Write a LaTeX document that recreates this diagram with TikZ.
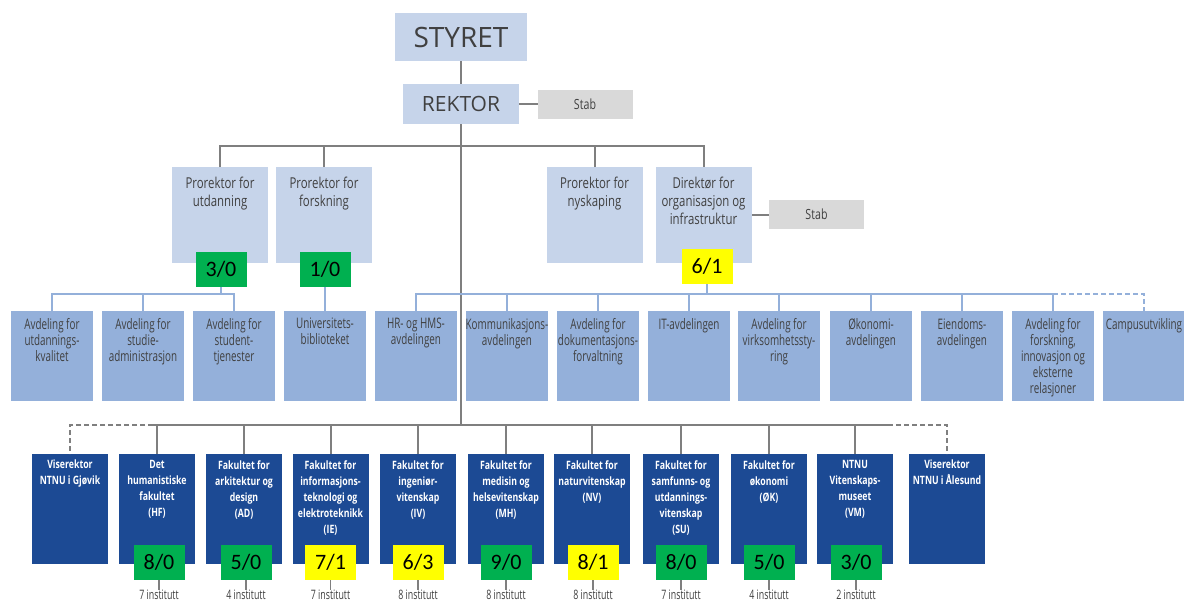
\documentclass[tikz,border=0pt]{standalone}
\usepackage{fontspec}
\setmainfont{Open Sans}
\newfontfamily\cond[FakeStretch=0.76]{Open Sans}
\newfontfamily\condn[FakeStretch=0.68]{Open Sans}
\newfontfamily\calib{Carlito}
\definecolor{topfill}{HTML}{C6D4EA}
\definecolor{deptfill}{HTML}{94B0DA}
\definecolor{facfill}{HTML}{1C4A94}
\definecolor{stabfill}{HTML}{D9D9D9}
\definecolor{conngray}{HTML}{7F7F7F}
\definecolor{connblue}{HTML}{94B0DA}
\definecolor{txtgray}{HTML}{404040}
\definecolor{scgreen}{HTML}{00B050}
\definecolor{scyellow}{HTML}{FFFF00}
\tikzset{
  box/.style={draw=none,inner sep=0pt,outer sep=0pt},
  topbox/.style={box,fill=topfill},
  stabbox/.style={box,fill=stabfill,minimum width=95pt,minimum height=29pt,text=txtgray,font=\cond\fontsize{14}{16}\selectfont},
  probox/.style={box,fill=topfill,minimum width=96pt,minimum height=96pt},
  protxt/.style={inner sep=0pt,anchor=north,align=center,text=txtgray,font=\cond\fontsize{15}{18}\selectfont},
  deptbox/.style={box,fill=deptfill,minimum width=82pt,minimum height=90pt},
  depttxt/.style={inner sep=0pt,anchor=north,align=center,text=txtgray,font=\condn\fontsize{14.5}{16}\selectfont},
  facbox/.style={box,fill=facfill,minimum width=76pt,minimum height=110pt},
  factxt/.style={inner sep=0pt,anchor=north,align=center,text=white,font=\cond\bfseries\fontsize{11.5}{16}\selectfont},
  score/.style={box,minimum width=51pt,minimum height=35pt,font=\calib\fontsize{22}{23}\selectfont},
  green/.style={fill=scgreen},
  yellow/.style={fill=scyellow},
  insttxt/.style={inner sep=0pt,text=txtgray,font=\condn\fontsize{13}{13}\selectfont},
  conn/.style={draw=conngray,line width=2pt},
  bconn/.style={draw=connblue,line width=2pt},
  tick/.style={draw=conngray,line width=1.2pt},
}
\begin{document}
\begin{tikzpicture}[x=1pt,y=-1pt]
\useasboundingbox[fill=white] (0,0) rectangle (1184,603);
% top
\node[topbox,minimum width=132pt,minimum height=48pt,text=txtgray,font=\fontsize{28}{30}\selectfont] (styret) at (461,37) {STYRET};
\node[topbox,minimum width=116pt,minimum height=40pt,text=txtgray,font=\fontsize{21}{23}\selectfont] (rektor) at (461,104) {REKTOR};
\node[stabbox] (stab1) at (585,104) {Stab};
\draw[conn] (styret.south) -- (rektor.north);
\draw[conn] (stab1.west) -- (stab1.west -| rektor.east);
\coordinate (fbus) at (461,425);
\coordinate (tbus) at (461,146);
\coordinate (dbus) at (461,294);
\draw[conn] (rektor.south) -- (fbus);
% pro row
\node[probox] (pu) at (220,215) {};
\node[protxt] (put) at (220,177) {Prorektor for\\utdanning};
\node[probox] (pf) at (324,215) {};
\node[protxt] (pft) at (324,177) {Prorektor for\\forskning};
\node[probox] (pn) at (594.5,215) {};
\node[protxt] (pnt) at (594.5,177) {Prorektor for\\nyskaping};
\node[probox] (dir) at (703.5,215) {};
\node[protxt] (dirt) at (703.5,177) {Direktør for\\organisasjon og\\infrastruktur};
\node[stabbox] (stab2) at (816.5,214.5) {Stab};
\draw[conn] (stab2.west) -- (stab2.west -| dir.east);
\draw[conn] (pu.north) -- (pu.north |- tbus) -- (dir.north |- tbus) -- (dir.north);
\draw[conn] (pf.north) -- (pf.north |- tbus);
\draw[conn] (pn.north) -- (pn.north |- tbus);
\node[score,green] (s30) at (221,269.5) {3/0};
\node[score,green] (s10) at (325,269.5) {1/0};
\node[score,yellow] (s61) at (707,266.5) {6/1};
% departments
\foreach \n/\x/\t in {
 d1/52/{Avdeling for\\utdannings-\\kvalitet},
 d2/143/{Avdeling for\\studie-\\administrasjon},
 d3/234/{Avdeling for\\student-\\tjenester},
 d4/325/{Universitets-\\biblioteket},
 d5/416/{HR- og HMS-\\avdelingen},
 d6/507/{Kommunikasjons-\\avdelingen},
 d7/598/{Avdeling for\\dokumentasjons-\\forvaltning},
 d8/689/{IT-avdelingen},
 d9/779/{Avdeling for\\virksomhetssty-\\ring},
 d10/871/{Økonomi-\\avdelingen},
 d11/962/{Eiendoms-\\avdelingen},
 d12/1053/{Avdeling for\\forskning,\\innovasjon og\\eksterne\\relasjoner},
 d13/1144/{Campusutvikling}}{
  \node[deptbox] (\n) at (\x,356) {};
  \node[depttxt] (\n t) at (\x,318) {\t};
}
\draw[bconn] (d1.north) -- (d1.north |- dbus) -- (d3.north |- dbus) -- (d3.north);
\draw[bconn] (d2.north) -- (d2.north |- dbus);
\draw[bconn] (s30.south) -- (s30.south |- dbus);
\draw[bconn] (s10.south) -- (d4.north);
\draw[bconn] (d5.north) -- (d5.north |- dbus) -- (d12.north |- dbus) -- (d12.north);
\draw[bconn,dashed,dash pattern=on 5pt off 3pt] (d12.north |- dbus) -- (d13.north |- dbus) -- (d13.north);
\foreach \n in {d6,d7,d8,d9,d10,d11}{\draw[bconn] (\n.north) -- (\n.north |- dbus);}
\draw[bconn] (s61.south) -- (s61.south |- dbus);
% faculties
\foreach \n/\x/\t in {
 f1/70/{Viserektor\\NTNU i Gjøvik},
 f2/157/{Det\\humanistiske\\fakultet\\(HF)},
 f3/244/{Fakultet for\\arkitektur og\\design\\(AD)},
 f4/330.5/{Fakultet for\\informasjons-\\teknologi og\\elektroteknikk\\(IE)},
 f5/418/{Fakultet for\\ingeniør-\\vitenskap\\(IV)},
 f6/506/{Fakultet for\\medisin og\\helsevitenskap\\(MH)},
 f7/592/{Fakultet for\\naturvitenskap\\(NV)},
 f8/681/{Fakultet for\\samfunns- og\\utdannings-\\vitenskap\\(SU)},
 f9/769/{Fakultet for\\økonomi\\(ØK)},
 f10/855/{NTNU\\Vitenskaps-\\museet\\(VM)},
 f11/947/{Viserektor\\NTNU i Ålesund}}{
  \node[facbox] (\n) at (\x,509) {};
  \node[factxt] (\n t) at (\x,460) {\t};
}
\coordinate (fl) at (153,425);
\coordinate (fr) at (888,425);
\draw[conn] (fl) -- (fr);
\draw[conn,dashed,dash pattern=on 5pt off 3pt] (fl) -- (f1.north |- fbus) -- (f1.north);
\draw[conn,dashed,dash pattern=on 5pt off 3pt] (fr) -- (f11.north |- fbus) -- (f11.north);
\foreach \n in {f2,f3,f4,f5,f6,f7,f8,f9,f10}{\draw[conn] (\n.north) -- (\n.north |- fbus);}
% scores
\foreach \n/\x/\c/\s/\i in {
 sc2/159/green/8\slash 0/7,
 sc3/246/green/5\slash 0/4,
 sc4/330.5/yellow/7\slash 1/7,
 sc5/418/yellow/6\slash 3/8,
 sc6/506/green/9\slash 0/8,
 sc7/593/yellow/8\slash 1/8,
 sc8/681/green/8\slash 0/7,
 sc9/769/green/5\slash 0/4,
 sc10/856/green/3\slash 0/2}{
  \node[score,\c] (\n) at (\x,562.5) {\s};
  \node[insttxt] (\n i) at (\x,595) {\i\ institutt};
  \draw[tick] (\n.south) -- (\n i.north);
}
\end{tikzpicture}
\end{document}
